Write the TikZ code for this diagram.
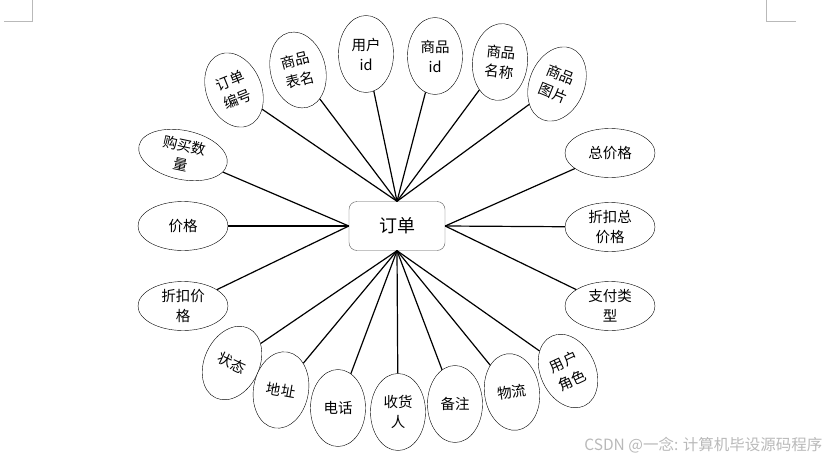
\documentclass[tikz,border=0pt]{standalone}
\usepackage{fontspec}
\setmainfont{Noto Sans CJK SC}
\usetikzlibrary{shapes.geometric}

\begin{document}
\begin{tikzpicture}[x=1pt,y=-1pt,font=\fontsize{14.5}{20}\selectfont]
    \tikzset{
      attr/.style={ellipse, draw, thin, fill=white, inner sep=0pt, align=center},
      tall/.style={attr, minimum width=55pt, minimum height=77pt},
      wide/.style={attr, minimum width=90pt, minimum height=49pt},
      link/.style={line width=1.2pt}
    }
    \useasboundingbox (0,0) rectangle (834,460);
    % page corner marks
    \draw[gray!55, line width=0.6pt] (4,21) -- (32,21) -- (32,0);
    \draw[gray!55, line width=0.6pt] (796,21) -- (766,21) -- (766,0);
    \node[draw=gray!70!black, rounded corners=8pt, minimum width=96pt, minimum height=49pt,
      font=\fontsize{18}{20}\selectfont] (order) at (397,226) {订单};
    \foreach \n/\x/\y/\a/\t in {bh/234/90/22/{订单\\编号}, tb/298/70/14/{商品\\表名},
      uid/366/54/0/{用户\\id}, pid/435/56/0/{商品\\id}, pname/500/62/-6/{商品\\名称},
      pimg/557/84/-22/{商品\\图片}} {
      \node[tall, rotate=\a] (\n) at (\x,\y) {\t};
      \draw[link] (order.north) -- (\n);
    }
    \foreach \n/\y/\a/\t in {qty/155/-12/{购买数\\量}, price/226/0/{价格}, dprice/306/0/{折扣价\\格}} {
      \node[wide, rotate=\a] (\n) at (183,\y) {\t};
      \draw[link] (order.west) -- (\n);
    }
    \foreach \n/\y/\t in {total/153/{总价格}, dtotal/227/{折扣总\\价格}, pay/306/{支付类\\型}} {
      \node[wide] (\n) at (610,\y) {\t};
      \draw[link] (order.east) -- (\n);
    }
    \foreach \n/\x/\y/\a/\t in {state/232/363/-25/{状态}, addr/281/390/-10/{地址},
      tel/338/408/0/{电话}, recv/398/412/0/{收货\\人}, note/455/404/0/{备注},
      ship/512/392/8/{物流}, role/568/371/25/{用户\\角色}} {
      \node[tall, rotate=\a] (\n) at (\x,\y) {\t};
      \draw[link] (order.south) -- (\n);
    }
    \node[anchor=east, text=gray!55, font=\fontsize{15.5}{16}\selectfont] (mark) at (826,445)
      {CSDN @一念: 计算机毕设源码程序};
\end{tikzpicture}
\end{document}
